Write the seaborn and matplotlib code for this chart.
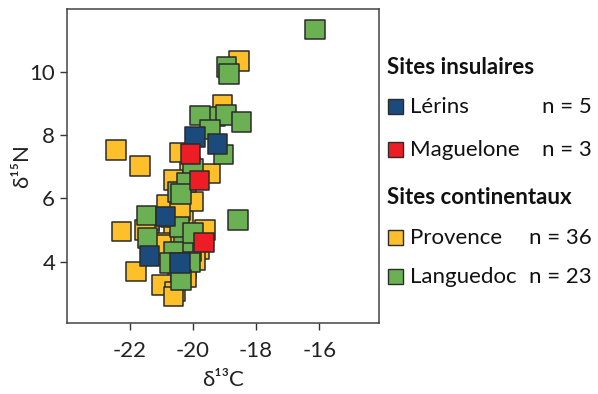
import numpy as np
import pandas as pd
import matplotlib
matplotlib.use("Agg")
import matplotlib.pyplot as plt
from matplotlib.patches import Rectangle
import seaborn as sns

# isotope values (d13C, d15N)
provence_x = [-20.3, -20.6, -20.2, -20.8, -20.5, -20.2, -21.4, -20.0, -19.9, -20.7, -21.4, -20.1,
              -20.9, -20.2, -19.8, -20.4,
              -18.54, -19.07, -22.45, -21.68, -20.42, -19.46, -20.63, -20.84, -20.41, -22.27,
              -21.52, -20.42, -19.62, -21.0, -19.94, -20.05, -21.81, -21.0, -20.57, -20.63]
provence_y = [5.3, 4.9, 4.5, 4.2, 3.7, 3.8, 4.9, 5.9, 4.7, 5.4, 5.3, 7.0,
              4.6, 3.5, 4.4, 4.3,
              10.35, 8.96, 7.54, 7.03, 7.45, 6.79, 6.58, 5.79, 5.63, 4.95,
              5.0, 4.68, 5.0, 4.53, 4.05, 4.31, 3.68, 3.26, 3.05, 2.89]
languedoc_x = [-20.3, -20.5, -19.3,
               -16.14, -18.94, -18.86, -19.78, -18.96, -18.46, -19.46, -19.04, -20.0, -20.20,
               -20.38, -21.47, -20.44, -21.45, -20.00, -18.57, -20.63, -20.73, -20.10, -20.38]
languedoc_y = [4.6, 6.2, 8.6,
               11.35, 10.17, 9.94, 8.62, 8.64, 8.42, 8.19, 7.40, 6.95, 6.50,
               6.14, 5.45, 5.10, 4.74, 4.90, 5.32, 4.31, 3.95, 3.97, 3.42]
lerins_x = [-19.94, -19.23, -20.87, -21.38, -20.42]
lerins_y = [7.94, 7.73, 5.43, 4.17, 3.95]
maguelone_x = [-20.08, -19.80, -19.65]
maguelone_y = [7.41, 6.56, 4.60]

sites = ["Provence", "Languedoc", "Lérins", "Maguelone"]
colors = {"Lérins": "#1B4A7C", "Maguelone": "#EE1D25",
          "Provence": "#FEC02A", "Languedoc": "#6BB153"}

df = pd.concat([
    pd.DataFrame({"d13C": provence_x, "d15N": provence_y, "site": "Provence"}),
    pd.DataFrame({"d13C": languedoc_x, "d15N": languedoc_y, "site": "Languedoc"}),
    pd.DataFrame({"d13C": lerins_x, "d15N": lerins_y, "site": "Lérins"}),
    pd.DataFrame({"d13C": maguelone_x, "d15N": maguelone_y, "site": "Maguelone"}),
], ignore_index=True)

sns.set_style("white")
plt.rcParams["font.family"] = ["Lato", "DejaVu Sans"]
plt.rcParams["axes.unicode_minus"] = False

fig = plt.figure(figsize=(5.98, 3.94), dpi=100)
ax = fig.add_axes([0.112, 0.180, 0.522, 0.797])

sns.scatterplot(data=df, x="d13C", y="d15N", hue="site", hue_order=sites, palette=colors,
                marker="s", s=195, edgecolor="#2b2b2b", linewidth=1.1, legend=False, ax=ax)

ax.set_xlim(-24.0, -14.1)
ax.set_ylim(2.05, 12.0)
ax.set_xticks([-22, -20, -18, -16])
ax.set_yticks([4, 6, 8, 10])
ax.tick_params(direction="out", length=5, width=1, color="#333333", labelsize=16,
               labelcolor="#222222", left=True, bottom=True)
ax.tick_params(axis="x", pad=8)
for sp in ax.spines.values():
    sp.set_color("#444444")
    sp.set_linewidth(1.1)
ax.set_xlabel("δ¹³C", fontsize=16, color="#222222")
ax.set_ylabel("δ¹⁵N", fontsize=16, color="#222222")
ax.xaxis.set_label_coords(0.5, -0.15)
ax.yaxis.set_label_coords(-0.113, 0.5)

# custom legend on the right
def px(x, y):
    return x / 598, 1 - y / 394

fs = 16
fig.text(*px(387, 68), "Sites insulaires", fontsize=fs, fontweight="bold", va="center", color="#111111")
fig.text(*px(387, 197), "Sites continentaux", fontsize=fs, fontweight="bold", va="center", color="#111111")
rows = [("Lérins", "n = 5", 107), ("Maguelone", "n = 3", 150),
        ("Provence", "n = 36", 238), ("Languedoc", "n = 23", 277)]
for name, n, yy in rows:
    x0, y0 = px(388, yy + 7)
    fig.add_artist(Rectangle((x0, y0), 15 / 598, 15 / 394, transform=fig.transFigure,
                             facecolor=colors[name], edgecolor="#2b2b2b", linewidth=1))
    fig.text(*px(410, yy), name, fontsize=fs, va="center", color="#111111")
    fig.text(*px(592, yy), n, fontsize=fs, va="center", ha="right", color="#111111")

fig.savefig("out.png", dpi=100)
